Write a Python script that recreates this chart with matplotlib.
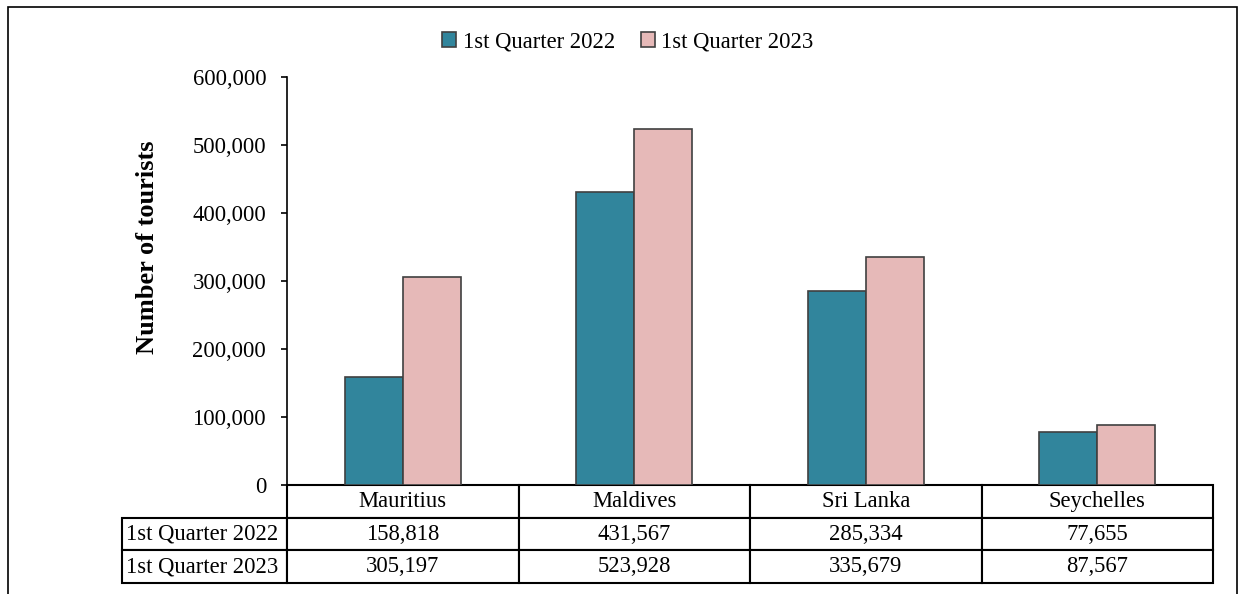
import matplotlib.pyplot as plt
import matplotlib.ticker as mticker
from matplotlib.table import Table
from matplotlib.patches import Rectangle
import numpy as np

plt.rcParams["font.family"] = ["Liberation Serif", "DejaVu Serif"]

# данные
countries = ["Mauritius", "Maldives", "Sri Lanka", "Seychelles"]
series_names = ["1st Quarter 2022", "1st Quarter 2023"]
q1_2022 = [158818, 431567, 285334, 77655]
q1_2023 = [305197, 523928, 335679, 87567]
colors = ["#31859C", "#E6B9B8"]

W, H = 1246, 594
fs = 16.3
fig = plt.figure(figsize=(W / 100, H / 100), dpi=100)

# оси по пикселям референса
ax_l, ax_r, ax_t, ax_b = 287, 1213, 77, 485
ax = fig.add_axes([ax_l / W, 1 - ax_b / H, (ax_r - ax_l) / W, (ax_b - ax_t) / H])

x = np.arange(len(countries))
bw = 0.25
ax.bar(x - bw / 2, q1_2022, bw, color=colors[0], edgecolor="#404040", linewidth=1.2,
       label=series_names[0])
ax.bar(x + bw / 2, q1_2023, bw, color=colors[1], edgecolor="#404040", linewidth=1.2,
       label=series_names[1])

ax.set_xlim(-0.5, len(countries) - 0.5)
ax.set_ylim(0, 600000)
ax.yaxis.set_major_locator(mticker.MultipleLocator(100000))
ax.yaxis.set_major_formatter(mticker.FuncFormatter(lambda v, p: f"{int(v):,}"))
ax.tick_params(axis="y", labelsize=fs, length=4, width=1.2, pad=11)
ax.set_xticks([])
for s in ["top", "right", "bottom"]:
    ax.spines[s].set_visible(False)
ax.spines["left"].set_linewidth(1.2)

ax.set_ylabel("Number of tourists", fontsize=19, fontweight="bold")
ax.yaxis.set_label_coords(-(287 - 159) / (ax_r - ax_l), (ax_b - 247) / (ax_b - ax_t))

# таблица данных под графиком
tbl = Table(ax, bbox=[(122 - ax_l) / (ax_r - ax_l), -(583 - ax_b) / (ax_b - ax_t),
                      (ax_r - 122) / (ax_r - ax_l), (583 - ax_b) / (ax_b - ax_t)])
lab_w, col_w, row_h = 165, 231.5, 32.7
for j, c in enumerate(countries):
    tbl.add_cell(0, j + 1, col_w, row_h, text=c, loc="center")
for i, (name, vals) in enumerate(zip(series_names, [q1_2022, q1_2023])):
    cell = tbl.add_cell(i + 1, 0, lab_w, row_h, text=name, loc="left")
    cell.PAD = 0.025
    for j, v in enumerate(vals):
        tbl.add_cell(i + 1, j + 1, col_w, row_h, text=f"{v:,}", loc="center")
tbl.auto_set_font_size(False)
tbl.set_fontsize(fs)
for cell in tbl.get_celld().values():
    cell.set_linewidth(1.5)
    cell.set_edgecolor("black")
ax.add_table(tbl)

fig.legend(loc="center", bbox_to_anchor=(628 / W, 1 - 42 / H), ncol=2, frameon=False,
           fontsize=fs, handlelength=0.6, handleheight=0.6, handletextpad=0.3,
           columnspacing=1.15)

# внешняя рамка
fig.add_artist(Rectangle((8 / W, -0.05), (1237 - 8) / W, 1 - 7 / H + 0.05,
                         transform=fig.transFigure, fill=False, edgecolor="black",
                         linewidth=1.2))

fig.savefig("out.png", dpi=100)
